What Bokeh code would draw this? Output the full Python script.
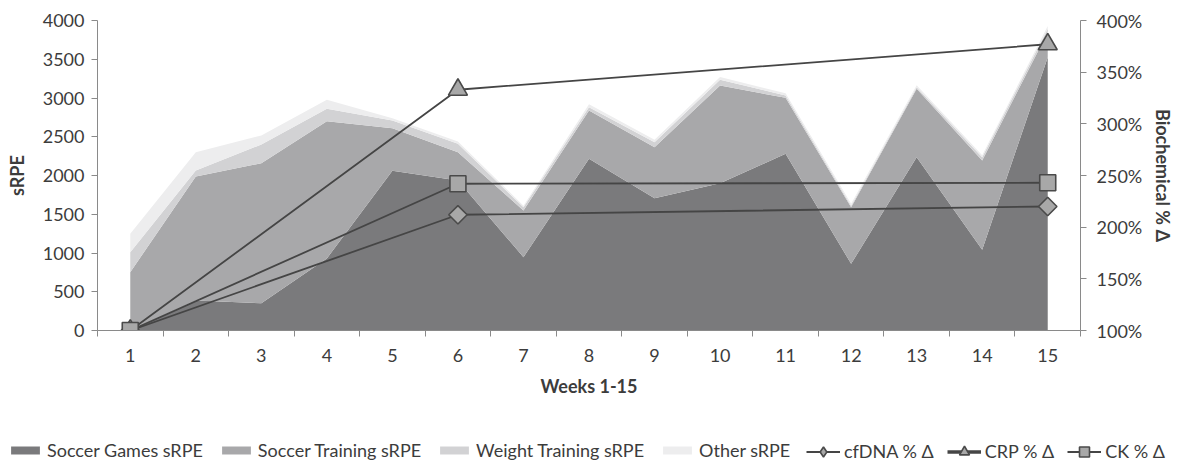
import math
from bokeh.plotting import figure
from bokeh.layouts import column
from bokeh.models import (ColumnDataSource, Range1d, LinearAxis, FixedTicker,
                          NumeralTickFormatter, Legend, LegendItem)
from bokeh.embed import file_html
from bokeh.resources import INLINE

# ---------------- data ----------------
weeks = list(range(1, 16))
soccer_games = [0, 387, 352, 930, 2060, 1935, 946, 2215, 1707, 1900, 2280, 860, 2237, 1041, 3527]
soccer_training = [753, 1600, 1807, 1771, 551, 366, 602, 624, 658, 1261, 722, 731, 881, 1153, 323]
weight_training = [258, 78, 241, 159, 99, 108, 42, 43, 65, 74, 30, 19, 22, 43, 43]
other = [236, 236, 116, 116, 30, 31, 20, 38, 30, 35, 28, 26, 25, 23, 37]

bio_weeks = [1, 6, 15]
cfdna = [1.00, 2.12, 2.20]
crp = [1.00, 3.33, 3.77]
ck = [1.00, 2.42, 2.43]

area_names = ["Soccer Games sRPE", "Soccer Training sRPE", "Weight Training sRPE", "Other sRPE"]
area_colors = ["#7a7a7c", "#a8a8aa", "#d2d2d4", "#ededee"]
line_names = ["cfDNA % \u0394", "CRP % \u0394", "CK % \u0394"]
bio_cols = ["cfdna", "crp", "ck"]

FONT = "Lato"
FS = "18px"
TXT = "#3c3c3c"
AX = "#8a8a8a"

src = ColumnDataSource(dict(week=weeks, games=soccer_games, training=soccer_training,
                            weight=weight_training, other=other))
bio = ColumnDataSource(dict(week=bio_weeks, cfdna=cfdna, crp=crp, ck=ck))

p = figure(width=1179, height=411, output_backend="svg", toolbar_location=None,
           x_range=Range1d(0.5, 15.5), y_range=Range1d(0, 4000),
           min_border_left=97, min_border_right=99, min_border_top=20, min_border_bottom=81)
p.extra_y_ranges = {"bio": Range1d(1.0, 4.0)}
p.outline_line_color = None
p.xgrid.visible = False
p.ygrid.visible = False
p.frame_align = False

stack_cols = ["games", "training", "weight", "other"]
p.varea_stack(stack_cols, x="week", source=src, color=area_colors)

line_kw = dict(line_color="#454545", line_width=1.8)
mk_kw = dict(fill_color="#a8a8a8", line_color="#4a4a4a", line_width=1.6)
markers = [dict(marker="square", angle=math.pi / 4, size=13),
           dict(marker="triangle", size=19),
           dict(marker="square", size=16)]
legend_markers = ["diamond", "triangle", "square"]
for col in bio_cols:
    p.line("week", col, source=bio, y_range_name="bio", **line_kw)
for col, mk in zip(bio_cols, markers):
    p.scatter("week", col, source=bio, y_range_name="bio", **mk, **mk_kw)

# x axis
xa = p.xaxis[0]
xa.ticker = FixedTicker(ticks=weeks, minor_ticks=[w - 0.5 for w in weeks] + [15.5])
xa.major_tick_line_color = None
xa.minor_tick_line_color = AX
xa.minor_tick_out = 6
xa.minor_tick_in = 0
xa.axis_line_color = AX
xa.axis_label = "Weeks 1-15"
xa.major_label_standoff = 12

# left axis
ya = p.yaxis[0]
ya.ticker = FixedTicker(ticks=list(range(0, 4001, 500)))
ya.axis_label = "sRPE"
ya.axis_line_color = AX
ya.major_tick_line_color = AX
ya.major_tick_out = 6
ya.major_tick_in = 0
ya.minor_tick_line_color = None
ya.major_label_standoff = 7

# right axis
ra = LinearAxis(y_range_name="bio", ticker=FixedTicker(ticks=[1.0, 1.5, 2.0, 2.5, 3.0, 3.5, 4.0]),
                formatter=NumeralTickFormatter(format="0%"), axis_label="Biochemical % \u0394")
ra.axis_line_color = AX
ra.major_tick_line_color = AX
ra.major_tick_out = 6
ra.major_tick_in = 0
ra.minor_tick_line_color = None
ra.major_label_standoff = 10
p.add_layout(ra, "right")

for ax in (xa, ya, ra):
    ax.major_label_text_font = FONT
    ax.major_label_text_font_size = FS
    ax.major_label_text_color = TXT
    ax.axis_label_text_font = FONT
    ax.axis_label_text_font_size = FS
    ax.axis_label_text_font_style = "bold"
    ax.axis_label_text_color = TXT
xa.axis_label_standoff = 10
ya.axis_label_standoff = 12
ra.axis_label_standoff = 7

# ---------------- legend strip (separate figure, full width) ----------------
# same data drawn out of view; only the legends of this strip are visible
lg = figure(width=1179, height=50, output_backend="svg", toolbar_location=None,
            x_range=Range1d(100, 101), y_range=Range1d(100, 101),
            x_axis_type=None, y_axis_type=None,
            min_border_left=0, min_border_right=0, min_border_top=0, min_border_bottom=0)
lg.outline_line_color = None
lg.xgrid.visible = False
lg.ygrid.visible = False
lg.frame_align = False

lg_areas = lg.varea_stack(stack_cols, x="week", source=src, color=area_colors)
area_items = [LegendItem(label=n, renderers=[r]) for n, r in zip(area_names, lg_areas)]
line_items = []
for name, col, mname in zip(line_names, bio_cols, legend_markers):
    lw = 3.5 if col == "crp" else 1.8
    rl = lg.line("week", col, source=bio, line_color="#454545", line_width=lw)
    rm = lg.scatter("week", col, source=bio, marker=mname, **mk_kw)
    line_items.append(LegendItem(label=name, renderers=[rl, rm]))

common = dict(orientation="horizontal", label_standoff=4,
              padding=0, margin=0, border_line_color=None, background_fill_alpha=0,
              label_text_font=FONT, label_text_font_size=FS, label_text_color=TXT,
              label_height=20)
leg1 = Legend(items=area_items, location=(7, 0), glyph_width=36, glyph_height=10,
              spacing=15, **common)
leg2 = Legend(items=line_items, location=(806, -2.5), glyph_width=34, glyph_height=25,
              spacing=13, **common)
lg.add_layout(leg1, "center")
lg.add_layout(leg2, "center")

layout = column(p, lg, spacing=0)
open("out.html", "w").write(file_html(layout, INLINE))
